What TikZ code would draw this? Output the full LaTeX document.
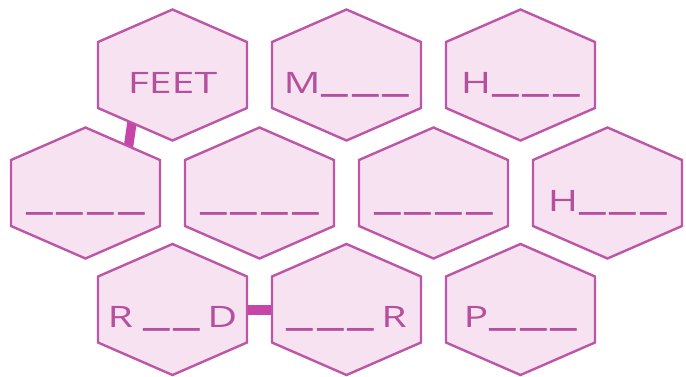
\documentclass[tikz,border=0pt]{standalone}
\usepackage{fontspec}
\setmainfont{Open Sans}
\usetikzlibrary{calc}
\definecolor{hexline}{HTML}{BD56A6}
\definecolor{hexfill}{HTML}{F6E2F0}
\definecolor{hextext}{HTML}{B5509F}
\definecolor{barcol}{HTML}{C545A8}
\newcommand\bl{\raisebox{4pt}{\scalebox{1.45}[1.5]{\_}}}
\newcommand\gp{\kern4pt}
\newcommand\hexcell[4]{%
  \coordinate (#1) at (#2,#3);
  \draw[hexshape] (#1) +(0,-65.5) -- +(74.5,-33) -- +(74.5,33) -- +(0,65.5) -- +(-74.5,33) -- +(-74.5,-33) -- cycle;
  \node[hexlabel] (#1-t) at ($(#1)+(0,18)$) {\scalebox{1}[0.72]{#4}};
}
\tikzset{
  hexshape/.style={draw=hexline, fill=hexfill, line width=2.4pt, line join=miter},
  hexlabel/.style={anchor=base, inner sep=0pt, text=hextext, font=\fontsize{41}{44}\selectfont},
  linkbar/.style={draw=barcol, line width=9.5pt},
}
\begin{document}
\begin{tikzpicture}[x=1pt,y=-1pt]
\useasboundingbox (0,0) rectangle (686,376);
% link bars (drawn first, hexagons cover their ends)
\coordinate (a) at (172.5,75);
\coordinate (d) at (85.5,193);
\coordinate (h) at (172.5,309.5);
\coordinate (i) at (346.5,309.5);
\coordinate (b1) at ($(a)+(-40,44)$);
\coordinate (b2) at ($(d)+(42.5,-43)$);
\coordinate (c1) at ($(h)+(70,0)$);
\coordinate (c2) at ($(i)+(-70,0)$);
\draw[linkbar] (b1) -- (b2);
\draw[linkbar, line width=10pt] (c1) -- (c2);
% top row
\hexcell{a}{172.5}{75}{FEET}
\hexcell{b}{346.5}{75}{M\kern1pt\bl\gp\bl\gp\bl}
\hexcell{c}{520.5}{75}{H\kern1pt\bl\gp\bl\gp\bl}
% middle row
\hexcell{d}{85.5}{193}{\bl\gp\bl\gp\bl\gp\bl}
\hexcell{e}{259.5}{193}{\bl\gp\bl\gp\bl\gp\bl}
\hexcell{f}{433.5}{193}{\bl\gp\bl\gp\bl\gp\bl}
\hexcell{g}{607.5}{193}{H\kern1pt\bl\gp\bl\gp\bl}
% bottom row
\hexcell{h}{172.5}{309.5}{R\kern10pt\bl\gp\bl\kern7pt D}
\hexcell{i}{346.5}{309.5}{\bl\gp\bl\gp\bl\kern7pt R}
\hexcell{j}{520.5}{309.5}{P\kern1pt\bl\gp\bl\gp\bl}
\end{tikzpicture}
\end{document}
